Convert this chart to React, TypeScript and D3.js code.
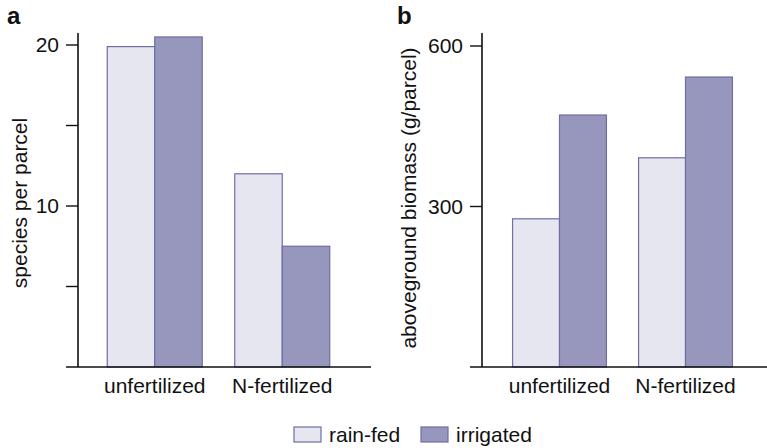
import React, { useEffect, useRef } from 'react';
import * as d3 from 'd3';

// data
const categories = ['unfertilized', 'N-fertilized'];
const seriesNames = ['rain-fed', 'irrigated'];
const speciesRainFed = [19.9, 12.0];
const speciesIrrigated = [20.5, 7.5];
const biomassRainFed = [277, 391];
const biomassIrrigated = [471, 542];
const speciesTicks = [5, 10, 15, 20];
const speciesTickLabels = ['', '10', '', '20'];
const biomassTicks = [300, 600];
const biomassTickLabels = ['300', '600'];

const fillColors = ['#e6e6f1', '#9796bc'];
const strokeColor = '#6f6da3';
const font = '"Liberation Sans", Arial, Helvetica, sans-serif';
const fontSize = 21;

export default function App() {
    const ref = useRef<SVGSVGElement>(null);

    useEffect(() => {
        const svg = d3.select(ref.current);
        svg.selectAll('*').remove();

        const y0 = 367;

        const panels = [
            {
                letter: 'a', letterX: 7,
                axisX: 78, lineStart: 66, lineEnd: 371,
                bandRange: [91, 346],
                domain: [0, 20], yTop: 45, axisTop: 33,
                ticks: speciesTicks, tickLabels: speciesTickLabels,
                values: [speciesRainFed, speciesIrrigated],
                title: 'species per parcel', titleX: 27, titleY: 203
            },
            {
                letter: 'b', letterX: 397,
                axisX: 482, lineStart: 470, lineEnd: 767,
                bandRange: [496.5, 748.5],
                domain: [0, 600], yTop: 46, axisTop: 33,
                ticks: biomassTicks, tickLabels: biomassTickLabels,
                values: [biomassRainFed, biomassIrrigated],
                title: 'aboveground biomass (g/parcel)', titleX: 416, titleY: 198
            }
        ];

        panels.forEach(function(p) {
            const g = svg.append('g');

            // scales
            const y = d3.scaleLinear().domain(p.domain).range([y0, p.yTop]);
            const x = d3.scaleBand<string>()
                .domain(categories)
                .range(p.bandRange as [number, number])
                .paddingInner(0.255)
                .paddingOuter(0.1275);
            const xs = d3.scaleBand<string>()
                .domain(seriesNames)
                .range([0, x.bandwidth()]);

            // bars
            categories.forEach(function(c, ci) {
                seriesNames.forEach(function(s, si) {
                    const v = p.values[si][ci];
                    g.append('rect')
                        .attr('x', (x(c) as number) + (xs(s) as number))
                        .attr('y', y(v))
                        .attr('width', xs.bandwidth())
                        .attr('height', y0 - y(v))
                        .attr('fill', fillColors[si])
                        .attr('stroke', strokeColor)
                        .attr('stroke-width', 1.2);
                });
            });

            // y axis line
            g.append('line')
                .attr('x1', p.axisX).attr('x2', p.axisX)
                .attr('y1', p.axisTop).attr('y2', y0)
                .attr('stroke', '#111').attr('stroke-width', 1.6);

            // ticks
            p.ticks.forEach(function(t, i) {
                g.append('line')
                    .attr('x1', p.axisX - 12).attr('x2', p.axisX)
                    .attr('y1', y(t)).attr('y2', y(t))
                    .attr('stroke', '#111').attr('stroke-width', 1.4);
                if (p.tickLabels[i]) {
                    g.append('text')
                        .attr('x', p.axisX - 19)
                        .attr('y', y(t))
                        .attr('dy', '0.35em')
                        .attr('text-anchor', 'end')
                        .attr('font-family', font)
                        .attr('font-size', fontSize)
                        .attr('fill', '#111')
                        .text(p.tickLabels[i]);
                }
            });

            // x baseline
            g.append('line')
                .attr('x1', p.lineStart).attr('x2', p.lineEnd)
                .attr('y1', y0).attr('y2', y0)
                .attr('stroke', '#111').attr('stroke-width', 1.6);

            // category labels
            categories.forEach(function(c) {
                g.append('text')
                    .attr('x', (x(c) as number) + x.bandwidth() / 2)
                    .attr('y', 393)
                    .attr('text-anchor', 'middle')
                    .attr('font-family', font)
                    .attr('font-size', fontSize)
                    .attr('fill', '#111')
                    .text(c);
            });

            // axis title
            g.append('text')
                .attr('transform', 'translate(' + p.titleX + ',' + p.titleY + ') rotate(-90)')
                .attr('text-anchor', 'middle')
                .attr('font-family', font)
                .attr('font-size', fontSize)
                .attr('fill', '#111')
                .text(p.title);

            // panel letter
            g.append('text')
                .attr('x', p.letterX)
                .attr('y', 24)
                .attr('font-family', font)
                .attr('font-size', 24)
                .attr('font-weight', 'bold')
                .attr('fill', '#111')
                .text(p.letter);
        });

        // legend
        const legendX = [294, 421];
        seriesNames.forEach(function(s, i) {
            svg.append('rect')
                .attr('x', legendX[i]).attr('y', 427)
                .attr('width', 27).attr('height', 15)
                .attr('fill', fillColors[i])
                .attr('stroke', strokeColor)
                .attr('stroke-width', 1.2);
            svg.append('text')
                .attr('x', legendX[i] + 35)
                .attr('y', 442)
                .attr('font-family', font)
                .attr('font-size', fontSize)
                .attr('fill', '#111')
                .text(s);
        });
    }, []);

    return (
        <svg ref={ref} width={767} height={448}
            style={{ position: 'absolute', left: 0, top: 0, background: '#fff' }} />
    );
}
